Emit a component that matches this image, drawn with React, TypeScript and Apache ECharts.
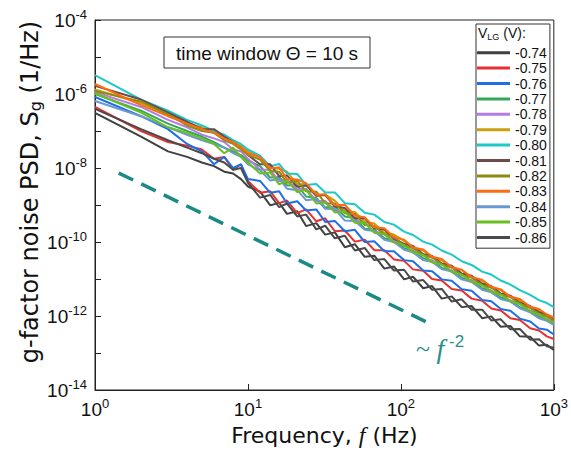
import React, { useEffect, useRef } from 'react';
import * as echarts from 'echarts';

// Frequencies (Hz) at which the PSD curves are sampled
const freqHz = [1, 2, 3, 4, 5, 6, 7, 8, 9, 10, 12, 14, 16, 18, 21, 24, 28, 32, 37, 43, 50, 58, 67, 78, 90, 105, 120, 140, 160, 185, 215, 250, 290, 340, 390, 450, 520, 600, 700, 800, 900, 1000];

const voltages = ['-0.74', '-0.75', '-0.76', '-0.77', '-0.78', '-0.79', '-0.80', '-0.81', '-0.82', '-0.83', '-0.84', '-0.85', '-0.86'];
const colors = ['#404040', '#e8312f', '#1e6fe6', '#35a65c', '#b47ae6', '#c9a10a', '#1cc8c8', '#6b4c4c', '#8c8c10', '#ff6a13', '#6a98d0', '#6abf20', '#4a4a4a'];

// log10 of the g-factor noise PSD S_g (1/Hz)
const logPsd074 = [-6.51, -7.15, -7.55, -7.7, -7.85, -7.95, -8.1, -8.15, -8.3, -8.5, -8.64, -9.01, -8.94, -9.24, -9.17, -9.57, -9.49, -9.80, -9.74, -10.14, -10.06, -10.40, -10.37, -10.72, -10.66, -11.01, -10.94, -11.25, -11.19, -11.53, -11.47, -11.76, -11.73, -12.06, -12.01, -12.29, -12.27, -12.55, -12.56, -12.80, -12.78, -12.92];
const logPsd075 = [-6.35, -7.0, -7.3, -7.4, -7.5, -7.75, -7.7, -8.05, -7.9, -8.35, -8.67, -8.63, -8.95, -8.88, -9.22, -9.12, -9.44, -9.36, -9.71, -9.69, -9.99, -9.94, -10.22, -10.22, -10.47, -10.51, -10.74, -10.78, -11.00, -11.04, -11.27, -11.31, -11.53, -11.59, -11.80, -11.85, -12.06, -12.11, -12.33, -12.39, -12.55, -12.62];
const logPsd076 = [-6.08, -6.6, -6.95, -7.35, -7.55, -7.9, -7.7, -8.0, -7.9, -8.3, -8.35, -8.67, -8.63, -8.96, -8.90, -9.15, -9.12, -9.46, -9.43, -9.71, -9.67, -10.00, -9.98, -10.25, -10.25, -10.49, -10.52, -10.77, -10.79, -11.01, -11.05, -11.28, -11.32, -11.57, -11.60, -11.81, -11.86, -12.07, -12.15, -12.34, -12.37, -12.50];
const logPsd077 = [-6.0, -6.45, -6.8, -7.0, -7.15, -7.3, -7.45, -7.55, -7.65, -7.8, -7.95, -8.26, -8.24, -8.47, -8.46, -8.77, -8.81, -9.07, -9.04, -9.31, -9.35, -9.64, -9.66, -9.90, -9.95, -10.17, -10.23, -10.44, -10.50, -10.70, -10.77, -10.97, -11.03, -11.25, -11.31, -11.50, -11.58, -11.76, -11.86, -12.02, -12.08, -12.20];
const logPsd078 = [-5.95, -6.35, -6.7, -6.9, -7.1, -7.2, -7.3, -7.5, -7.55, -7.75, -8.04, -8.05, -8.36, -8.31, -8.58, -8.56, -8.89, -8.89, -9.15, -9.15, -9.43, -9.46, -9.72, -9.77, -9.98, -10.07, -10.27, -10.34, -10.52, -10.58, -10.79, -10.87, -11.06, -11.14, -11.33, -11.41, -11.59, -11.66, -11.86, -11.94, -12.08, -12.16];
const logPsd079 = [-5.88, -6.25, -6.55, -6.8, -6.9, -7.05, -7.15, -7.3, -7.4, -7.55, -7.70, -8.00, -8.02, -8.10, -8.44, -8.43, -8.75, -8.72, -8.88, -9.17, -9.19, -9.45, -9.50, -9.75, -9.80, -9.97, -10.16, -10.23, -10.43, -10.49, -10.69, -10.76, -10.96, -11.05, -11.24, -11.30, -11.49, -11.57, -11.77, -11.84, -11.98, -12.06];
const logPsd080 = [-5.49, -6.15, -6.45, -6.7, -6.85, -7.0, -7.1, -7.25, -7.35, -7.5, -7.67, -7.95, -7.89, -8.15, -8.16, -8.46, -8.43, -8.66, -8.66, -8.95, -8.98, -9.21, -9.26, -9.46, -9.53, -9.72, -9.81, -9.99, -10.07, -10.23, -10.34, -10.52, -10.62, -10.80, -10.88, -11.04, -11.15, -11.30, -11.43, -11.57, -11.65, -11.76];
const logPsd081 = [-5.78, -6.15, -6.5, -6.75, -6.95, -6.95, -7.15, -7.3, -7.45, -7.65, -7.90, -7.90, -8.22, -8.20, -8.51, -8.47, -8.75, -8.73, -9.04, -9.08, -9.36, -9.36, -9.63, -9.66, -9.91, -10.05, -10.11, -10.33, -10.38, -10.58, -10.64, -10.85, -10.91, -11.13, -11.19, -11.39, -11.45, -11.64, -11.73, -11.90, -11.96, -12.08];
const logPsd082 = [-5.92, -6.2, -6.55, -6.85, -7.0, -7.05, -7.25, -7.35, -7.5, -7.65, -7.77, -8.08, -8.10, -8.40, -8.35, -8.63, -8.64, -8.95, -8.96, -9.22, -9.24, -9.54, -9.57, -9.80, -9.86, -10.10, -10.16, -10.36, -10.41, -10.61, -10.69, -10.90, -10.96, -11.17, -11.23, -11.42, -11.49, -11.67, -11.78, -11.94, -12.01, -12.12];
const logPsd083 = [-5.73, -6.3, -6.6, -6.8, -6.95, -7.05, -7.2, -7.3, -7.45, -7.6, -7.71, -8.01, -7.98, -8.30, -8.31, -8.41, -8.72, -8.71, -9.01, -8.99, -9.29, -9.33, -9.60, -9.63, -9.87, -9.94, -10.15, -10.20, -10.40, -10.46, -10.68, -10.75, -10.95, -11.02, -11.21, -11.28, -11.48, -11.54, -11.75, -11.81, -11.96, -12.04];
const logPsd084 = [-6.19, -6.6, -6.9, -7.1, -7.25, -7.35, -7.45, -7.6, -7.7, -7.9, -8.06, -8.34, -8.29, -8.56, -8.60, -8.87, -8.84, -9.10, -9.11, -9.42, -9.43, -9.67, -9.70, -9.94, -10.00, -10.21, -10.28, -10.49, -10.54, -10.73, -10.80, -11.01, -11.08, -11.29, -11.36, -11.54, -11.61, -11.79, -11.90, -12.06, -12.13, -12.24];
const logPsd085 = [-5.98, -6.5, -6.9, -7.05, -7.2, -7.35, -7.6, -7.45, -7.7, -7.85, -8.15, -8.12, -8.44, -8.34, -8.65, -8.59, -8.96, -8.93, -9.20, -9.17, -9.48, -9.48, -9.75, -9.79, -10.01, -10.08, -10.28, -10.35, -10.55, -10.61, -10.81, -10.88, -11.08, -11.17, -11.35, -11.42, -11.60, -11.68, -11.88, -11.96, -12.10, -12.18];
const logPsd086 = [-6.4, -6.95, -7.25, -7.45, -7.6, -7.75, -7.85, -8.05, -8.0, -8.4, -8.80, -8.73, -9.06, -8.96, -9.31, -9.26, -9.66, -9.56, -9.90, -9.83, -10.23, -10.16, -10.49, -10.46, -10.77, -10.75, -11.07, -11.03, -11.29, -11.27, -11.61, -11.55, -11.83, -11.83, -12.12, -12.09, -12.36, -12.35, -12.64, -12.63, -12.82, -12.86];

const psdLogSeries = [logPsd074, logPsd075, logPsd076, logPsd077, logPsd078, logPsd079, logPsd080, logPsd081, logPsd082, logPsd083, logPsd084, logPsd085, logPsd086];

// ~ f^-2 guide line end points
const guideFreq = [1.43, 155];
const guidePsd = [7.3e-9, 6.2e-13];

const SANS = '"Liberation Sans", Arial, sans-serif';
const SERIF = '"Liberation Serif", "Times New Roman", serif';
const DEJAVU = '"DejaVu Sans", sans-serif';

export default function App() {
  const ref = useRef<HTMLDivElement>(null);

  useEffect(() => {
    document.body.style.margin = '0';
    const chart = echarts.init(ref.current!, null, { renderer: 'svg' });

    const powLabel = (val: number, showOdd: boolean) => {
      const e = Math.round(Math.log10(val));
      if (!showOdd && e % 2 !== 0) return '';
      return `{b|10}{s|${e}}`;
    };
    const labelRich = {
      b: { fontSize: 19, fontFamily: SANS, color: '#111' },
      s: { fontSize: 13, fontFamily: SANS, color: '#111', padding: [0, 0, 11, 0] },
    };

    const series: any[] = voltages.map((v, k) => ({
      name: v,
      type: 'line',
      symbol: 'none',
      silent: true,
      data: freqHz.map((f, i) => [f, Math.pow(10, psdLogSeries[k][i])]),
      lineStyle: { color: colors[k], width: 2 },
      itemStyle: { color: colors[k] },
      z: 2,
    }));
    series.push({
      name: 'guide',
      type: 'line',
      symbol: 'none',
      silent: true,
      data: guideFreq.map((f, i) => [f, guidePsd[i]]),
      lineStyle: { color: '#1b8a86', width: 3.5, type: [16, 9] },
      z: 3,
    });

    chart.setOption({
      animation: false,
      grid: {
        left: 95, top: 20, right: 16, bottom: 67,
        show: true, borderColor: '#222', borderWidth: 1, backgroundColor: 'transparent',
      },
      xAxis: {
        type: 'log', logBase: 10, min: 1, max: 1000, interval: 1,
        axisLine: { show: true, lineStyle: { color: '#222', width: 1 } },
        axisTick: { show: true, inside: true, length: 6, lineStyle: { color: '#222' } },
        minorTick: { show: false },
        splitLine: { show: false },
        axisLabel: { margin: 7, formatter: (v: number) => powLabel(v, true), rich: labelRich },
        name: 'Frequency, {i|f} (Hz)',
        nameLocation: 'middle',
        nameGap: 33,
        nameTextStyle: {
          fontSize: 22, fontFamily: DEJAVU, color: '#111',
          rich: { i: { fontSize: 24, fontFamily: SERIF, fontStyle: 'italic', color: '#111' } },
        },
      },
      yAxis: {
        type: 'log', logBase: 10, min: 1e-14, max: 1e-4, interval: 1,
        axisLine: { show: true, lineStyle: { color: '#222', width: 1 } },
        axisTick: { show: true, inside: true, length: 6, lineStyle: { color: '#222' } },
        minorTick: { show: false },
        splitLine: { show: false },
        axisLabel: { margin: 8, formatter: (v: number) => powLabel(v, false), rich: labelRich },
      },
      legend: {
        data: voltages,
        orient: 'vertical',
        left: 476, top: 24,
        padding: [21, 3, 3, 1],
        itemGap: 0,
        itemWidth: 33,
        itemHeight: 3,
        icon: 'rect',
        borderColor: '#333', borderWidth: 1, backgroundColor: '#fff',
        selectedMode: false,
        textStyle: { fontFamily: SANS, fontSize: 14, color: '#111', lineHeight: 15.4 },
      },
      graphic: [
        {
          type: 'rect', z: 10,
          shape: { x: 164, y: 37, width: 206, height: 31 },
          style: { fill: '#fff', stroke: '#333', lineWidth: 1 },
        },
        {
          type: 'text', z: 11, x: 267, y: 53,
          style: {
            text: 'time window \u0398 = 10 s', fontSize: 19, fontFamily: SANS, fill: '#111',
            align: 'center', verticalAlign: 'middle',
          },
        },
        {
          type: 'text', z: 11, x: 30, y: 192, rotation: Math.PI / 2,
          style: {
            text: 'g-factor noise PSD, S{sub|g} (1/Hz)',
            fontSize: 24, fontFamily: DEJAVU, fill: '#111',
            align: 'center', verticalAlign: 'middle',
            rich: { sub: { fontSize: 16, fontFamily: DEJAVU, fill: '#111', padding: [11, 0, 0, 0] } },
          },
        },
        {
          type: 'text', z: 11, x: 478, y: 33,
          style: {
            text: 'V{sub|LG} (V):', fontSize: 14, fontFamily: SANS, fill: '#111',
            align: 'left', verticalAlign: 'middle',
            rich: { sub: { fontSize: 9, fontFamily: SANS, fill: '#111', padding: [7, 0, 0, 0] } },
          },
        },
        {
          type: 'text', z: 11, x: 416, y: 348,
          style: {
            text: '{a|~ }{f|f}{s| -2}',
            align: 'left', verticalAlign: 'middle',
            rich: {
              a: { fontSize: 26, fontFamily: SERIF, fill: '#2a8f8c' },
              f: { fontSize: 28, fontFamily: SERIF, fontStyle: 'italic', fill: '#2a8f8c' },
              s: { fontSize: 17, fontFamily: SANS, fill: '#2a8f8c', padding: [0, 0, 14, 0] },
            },
          },
        },
      ],
      series,
    });

    return () => chart.dispose();
  }, []);

  return <div ref={ref} style={{ width: 571, height: 457 }} />;
}
